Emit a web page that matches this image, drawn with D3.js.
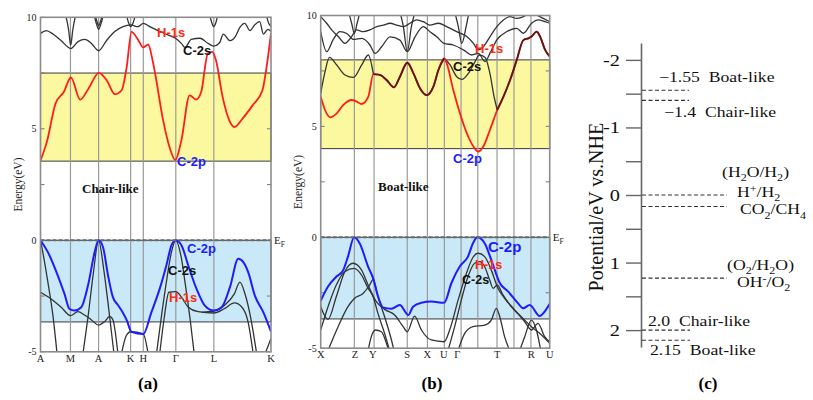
<!DOCTYPE html>
<html>
<head>
<meta charset="utf-8">
<script src="https://cdn.jsdelivr.net/npm/d3@7"></script>
<style>
  body { margin: 0; background: #fff; }
  svg { display: block; }
  text { font-family: "Liberation Serif", "Times New Roman", serif; white-space: pre; }
  .orb { font-family: "Liberation Sans", Arial, sans-serif; font-weight: bold; }
</style>
</head>
<body>
<svg id="fig" width="813" height="400"></svg>
<script>
// ---------- panel (a): chair-like ----------
const kLabelsA = ["A", "M", "A", "K", "H", "Γ", "L", "K"];
const kPosA = [0, 0.130, 0.252, 0.391, 0.446, 0.587, 0.752, 1];
const gapA = [3.55, 7.5];     // yellow: CBM .. top
const vbA = -3.66;            // blue box bottom (top = EF)

const redA = [[0,3.57],[.029,4.47],[.065,6.13],[.101,6.65],[.132,7.30],[.172,6.31],[.208,6.8],[.253,7.51],
  [.287,7.18],[.323,6.55],[.352,6.73],[.374,7.78],[.395,9.35],[.424,8.98],[.445,8.65],[.467,8.78],[.489,7.93],
  [.532,5.38],[.560,4.17],[.585,3.6],[.611,4.47],[.647,6.5],[.675,6.31],[.697,6.65],[.726,8.38],[.745,8.45],
  [.761,8.08],[.790,6.43],[.819,5.38],[.841,5.08],[.876,5.45],[.920,6.05],[.963,6.73],[.981,7.78],[1,9.28]];

const blueA = [[0,0],[.032,-.53],[.075,-1.58],[.104,-2.4],[.126,-3.08],[.148,-3.15],[.177,-3.0],[.206,-2.03],
  [.235,-.53],[.252,0],[.271,-.3],[.293,-1.58],[.314,-2.55],[.336,-2.9],[.355,-3.2],[.375,-3.6],[.394,-4.1],
  [.446,-4.2],[.481,-3.23],[.517,-2.18],[.546,-1.13],[.568,-.23],[.587,0],[.612,-.23],[.641,-1.13],[.677,-2.18],
  [.713,-2.93],[.752,-3.15],[.786,-3.0],[.822,-2.1],[.858,-.83],[.88,-.98],[.901,-1.43],[.930,-2.48],
  [.967,-3.23],[1,-4.1]];

const lowBlackA = [
  [[0,0],[.01,-.53],[.032,-1.88],[.054,-3.38],[.072,-5.1]],
  [[0,-2.33],[.046,-2.63],[.09,-3.0],[.13,-3.38],[.162,-3.2],[.191,-3.35],[.22,-3.56],[.252,-3.8],[.278,-3.65],
    [.3,-3.41],[.314,-3.56],[.336,-5.1]],
  [[.184,-5.1],[.206,-3.45],[.228,-1.58],[.252,0],[.274,-1.28],[.296,-3.08],[.319,-5.1]],
  [[.351,-5.1],[.372,-4.28],[.391,-4.1],[.446,-4.2],[.467,-5.1]],
  [[.503,-5.1],[.525,-3.38],[.546,-1.88],[.568,-.53],[.587,0],[.609,-.68],[.629,-2.03],[.649,-3.53],[.667,-5.1]],
  [[.517,-5.1],[.536,-3.53],[.557,-2.33],[.587,-2.3],[.612,-2.55],[.641,-3.0],[.684,-3.2],[.752,-3.26],
    [.8,-3.05],[.841,-2.81],[.874,-3.0],[.901,-3.68],[.923,-5.1]],
  [[.699,-3.23],[.752,-3.17],[.8,-2.9],[.841,-2.4],[.865,-1.88],[.887,-2.4],[.913,-3.53],[.938,-5.1]],
  [[.974,-5.1],[1,-4.4]]
];

const highBlackA = [
  [[0,9.28],[.025,9.4],[.054,9.25],[.09,8.95],[.131,8.6],[.163,8.91],[.192,9.01],[.221,8.83],[.252,8.5],
    [.286,8.95],[.322,9.36],[.358,9.58],[.391,9.66],[.423,9.58],[.446,9.73],[.474,9.58],[.51,9.4],[.553,9.21],
    [.586,9.06],[.611,8.83],[.627,8.65],[.654,9.01],[.692,9.06],[.727,8.83],[.751,8.71],[.777,8.86],[.793,9.25],
    [.822,8.95],[.845,9.13],[.865,9.55],[.886,9.73],[.909,9.4],[.929,9.66],[.951,9.81],[.967,9.25],[.987,9.46],[1,9.36]],
  [[.105,10.3],[.122,9.43],[.131,8.75],[.14,9.43],[.157,10.3]],
  [[.228,10.3],[.244,9.66],[.252,9.46],[.261,9.66],[.277,10.3]],
  [[.232,10.3],[.245,9.81],[.252,9.62],[.26,9.81],[.273,10.3]],
  [[.368,10.3],[.383,9.73],[.391,9.58],[.401,9.73],[.416,10.3]],
  [[.73,10.3],[.744,9.73],[.751,9.58],[.76,9.73],[.773,10.3]],
  [[.975,10.3],[.99,9.73],[1,9.58]]
];

// ---------- panel (b): boat-like ----------
const kLabelsB = ["X", "Z", "Y", "S", "X", "U", "Γ", "T", "R", "U"];
const kLabelPosB = [0, .15, .228, .378, .466, .538, .597, .771, .92, 1];
const kLinesB = [.147, .233, .378, .466, .54, .613, .686, .77, .844, .918];
const gapB = [4.0, 8.0];
const vbB = -3.68;

const redB = [[0,6.34],[.019,5.74],[.041,5.41],[.07,5.59],[.099,5.97],[.135,6.19],[.157,6.12],[.179,6.01],
  [.208,6.34],[.23,7.36],[.259,7.32],[.288,7.09],[.32,6.76],[.346,7.24],[.378,7.87],[.405,7.39],[.434,6.71],
  [.463,6.41],[.492,6.79],[.514,7.54],[.539,8.07],[.55,7.85],[.579,6.64],[.608,5.59],[.638,4.69],[.667,4.09],
  [.688,3.86],[.71,4.09],[.739,4.84],[.771,5.74],[.798,6.34],[.827,7.09],[.856,7.99],[.885,8.89],[.907,8.97],
  [.921,9.05],[.943,9.27],[.958,9.05],[.98,8.45],[1,8.15]];
const darkRangesB = [[.23, .539], [.771, 1]];   // red & C-2s overlap

const blueB = [[0,-2.86],[.032,-2.22],[.068,-1.78],[.097,-1.51],[.119,-.87],[.146,0],[.17,-.27],[.207,-1.32],
  [.229,-1.85],[.251,-2.68],[.272,-3.16],[.309,-3.22],[.345,-3.05],[.383,-3.5],[.403,-3.13],[.44,-2.95],
  [.483,-2.9],[.539,-2.95],[.571,-2.06],[.607,-1.32],[.643,-.87],[.665,-.27],[.684,0],[.716,-.27],[.745,-1.02],
  [.782,-2.06],[.818,-2.44],[.862,-2.98],[.884,-3.2],[.913,-3.05],[.956,-3.55],[.978,-3.35],[1,-3.0]];

const lowBlackB = [
  [[0,-3.13],[.032,-3.7],[.068,-2.68],[.105,-1.55],[.141,-1.17],[.178,-1.47],[.207,-2.15],[.243,-2.9],
    [.279,-3.25],[.323,-3.5],[.36,-4.03],[.378,-4.26],[.41,-3.55],[.44,-4.18],[.483,-4.63],[.539,-4.71],
    [.563,-4.18],[.6,-2.83],[.636,-1.63],[.665,-.9],[.687,-.72],[.716,-.87],[.745,-1.48],[.774,-2.3],
    [.803,-2.75],[.847,-3.28],[.891,-3.81],[.92,-4.18],[.949,-3.88],[.978,-4.48],[1,-4.71]],
  [[0,-4.18],[.032,-3.13],[.068,-2.15],[.105,-1.55],[.146,-1.4],[.178,-1.7],[.207,-2.3],[.229,-2.68],
    [.25,-3.43],[.279,-4.33],[.301,-5.1]],
  [[.032,-5.1],[.076,-4.03],[.119,-3.13],[.148,-2.75],[.185,-2.53],[.214,-2.15],[.229,-1.9],[.25,-2.68],
    [.279,-3.58],[.309,-4.63],[.32,-5.1]],
  [[.207,-5.1],[.221,-4.48],[.239,-4.18],[.265,-4.26],[.287,-4.78],[.297,-5.1]],
  [[.556,-5.1],[.585,-4.03],[.614,-2.83],[.643,-1.78],[.672,-1.17],[.694,-1.1],[.716,-1.33],[.738,-1.93],
    [.753,-2.3],[.771,-2.15],[.796,-2.6],[.833,-3.13],[.876,-3.58],[.92,-4.03],[.956,-4.33],[1,-4.78]],
  [[.6,-5.1],[.629,-4.33],[.665,-4.03],[.716,-3.96],[.745,-3.73],[.767,-3.2],[.782,-3.58],[.803,-4.48],[.825,-5.1]],
  [[.869,-5.1],[.891,-4.48],[.92,-3.73],[.942,-4.18],[.961,-5.1]]
];

const highBlackB = [
  [[0,6.49],[.019,7.47],[.038,8.11],[.07,7.77],[.106,7.32],[.143,7.21],[.179,7.77],[.208,8.22],[.23,7.36]],
  [[.539,8.07],[.565,7.77],[.594,7.24],[.616,7.12],[.645,7.39],[.674,7.92],[.693,8.22],[.718,8.11],[.739,7.39],
    [.757,6.34],[.771,5.74]],
  [[0,9.27],[.026,8.37],[.055,8.92],[.084,9.27],[.114,9.19],[.143,8.92],[.179,8.97],[.215,8.67],[.237,8.29],
    [.266,8.59],[.303,9.04],[.346,8.89],[.378,8.37],[.412,9.04],[.448,9.5],[.477,9.27],[.507,9.04],[.539,8.74],
    [.579,8.67],[.623,8.45],[.659,8.22],[.688,8.29],[.718,7.92],[.739,8.29],[.769,8.9],[.812,9.27],[.856,9.42],
    [.885,9.2],[.921,9.65],[.951,9.8],[.98,9.72],[1,9.65]],
  [[0,9.95],[.026,9.65],[.048,9.35],[.077,9.05],[.106,8.75],[.135,9.05],[.157,9.35],[.186,9.27],[.215,9.35],
    [.245,9.5],[.274,9.57],[.303,9.65],[.332,9.57],[.361,9.5],[.39,9.65],[.419,9.8],[.448,9.72],[.477,9.57],
    [.514,9.65],[.55,9.5],[.594,9.27],[.638,9.05],[.667,8.74],[.688,8.45],[.71,8.59],[.739,9.04],[.769,9.5],
    [.798,9.8],[.827,9.95],[.856,9.87],[.885,9.95],[.914,10.1],[.943,10.02],[.972,9.87],[1,9.72]],
  [[.116,10.4],[.135,9.65],[.147,9.2],[.159,9.65],[.178,10.4]],
  [[.339,10.4],[.361,9.5],[.378,8.37],[.396,9.5],[.419,10.4]],
  [[.579,10.4],[.601,9.5],[.616,8.74],[.635,9.5],[.652,10.4]]
];

// ---------- panel (c): band edges vs NHE ----------
const potTicks = [-2, -1.5, -1, -0.5, 0, 0.5, 1, 1.5, 2];
const cbEdges = [-1.55, -1.4];
const cbNames = ["\u22121.55  Boat-like", "\u22121.4  Chair-like"];
const vbEdges = [2.0, 2.15];
const vbNames = ["2.0  Chair-like", "2.15  Boat-like"];
const redoxLevels = [0, 0.17, 1.23];

const svg = d3.select("#fig");
const defs = svg.append("defs");

// text with _x subscripts and ^x superscripts
function rich(t, str, size) {
  let off = 0;
  str.match(/[_^].|[^_^]+/g).forEach(p => {
    let target = 0, txt = p, fs = size;
    if (p[0] === "_") { target = size * 0.28; txt = p[1]; fs = size * 0.68; }
    else if (p[0] === "^") { target = -size * 0.36; txt = p[1]; fs = size * 0.68; }
    t.append("tspan").attr("dy", target - off).attr("font-size", fs).text(txt);
    off = target;
  });
  return t;
}

function bandPanel(p) {
  const x = d3.scaleLinear().domain([0, 1]).range([p.left, p.right]);
  const y = d3.scaleLinear().domain([-5, 10]).range([p.bottom, p.top]);
  const g = svg.append("g");
  defs.append("clipPath").attr("id", "clip-" + p.id)
    .append("rect").attr("x", p.left).attr("y", p.top)
    .attr("width", p.right - p.left).attr("height", p.bottom - p.top);

  g.append("rect")
    .attr("x", x(0)).attr("width", x(1) - x(0))
    .attr("y", y(p.gap[1])).attr("height", y(p.gap[0]) - y(p.gap[1]))
    .attr("fill", "#fbf8a0").attr("stroke", "#4a4a4a").attr("stroke-width", 1.1);
  g.append("rect")
    .attr("x", x(0)).attr("width", x(1) - x(0))
    .attr("y", y(0)).attr("height", y(p.vb) - y(0))
    .attr("fill", "#c9e8f8").attr("stroke", "#4a4a4a").attr("stroke-width", 1.1);

  g.selectAll(".kl").data(p.kLines).join("line")
    .attr("x1", d => x(d)).attr("x2", d => x(d))
    .attr("y1", p.top).attr("y2", p.bottom)
    .attr("stroke", "#9a9a9a").attr("stroke-width", 1.2);

  const eTicks = d3.range(-5, 10.01, 2.5);
  [[0, 4], [1, -4]].forEach(([k, dx]) => {
    g.selectAll(null).data(eTicks).join("line")
      .attr("x1", x(k)).attr("x2", x(k) + dx)
      .attr("y1", d => y(d)).attr("y2", d => y(d))
      .attr("stroke", "#777").attr("stroke-width", 1);
  });

  const ln = d3.line().x(d => x(d[0])).y(d => y(d[1])).curve(d3.curveMonotoneX);
  const c = g.append("g").attr("clip-path", `url(#clip-${p.id})`);
  c.selectAll(".bk").data(p.black).join("path")
    .attr("d", ln).attr("fill", "none").attr("stroke", "#333").attr("stroke-width", 1.3);
  c.append("path").datum(p.red).attr("d", ln)
    .attr("fill", "none").attr("stroke", "#ff1c1c").attr("stroke-width", 1.8);
  c.selectAll(".dk").data(p.dark.map(r => p.red.filter(d => d[0] >= r[0] - 1e-9 && d[0] <= r[1] + 1e-9)))
    .join("path").attr("d", ln)
    .attr("fill", "none").attr("stroke", "#5a1818").attr("stroke-width", 1.8);
  c.append("path").datum(p.blue).attr("d", ln)
    .attr("fill", "none").attr("stroke", "#1c1cff").attr("stroke-width", 2);

  g.append("line")
    .attr("x1", x(0)).attr("x2", x(1)).attr("y1", y(0)).attr("y2", y(0))
    .attr("stroke", "#6a6a6a").attr("stroke-width", 2).attr("stroke-dasharray", "4,2");

  g.append("rect")
    .attr("x", x(0)).attr("y", p.top).attr("width", x(1) - x(0)).attr("height", p.bottom - p.top)
    .attr("fill", "none").attr("stroke", "#8c8c8c").attr("stroke-width", 1.6);

  g.selectAll(".el").data([10, 5, 0, -5]).join("text")
    .attr("x", x(0) - 4).attr("y", d => y(d) + 3.5)
    .attr("text-anchor", "end").attr("font-size", 10).attr("fill", "#222")
    .text(d => d);

  g.selectAll(".klab").data(p.kLabels).join("text")
    .attr("x", (d, i) => x(p.kLabelPos[i])).attr("y", p.bottom + 10)
    .attr("text-anchor", "middle").attr("font-size", 10.5).attr("fill", "#222")
    .text(d => d);

  rich(g.append("text").attr("x", x(1) + 3).attr("y", y(0) + 4)
    .attr("font-size", 11).attr("fill", "#222"), "E_F", 11);

  g.append("text")
    .attr("transform", `translate(${p.left - 19},${(y(10) + y(-5)) / 2}) rotate(-90)`)
    .attr("text-anchor", "middle").attr("font-size", 11.5).attr("fill", "#222")
    .text("Energy(eV)");

  g.append("text").attr("x", p.nameX).attr("y", y(2.1))
    .attr("font-size", 13).attr("font-weight", "bold").attr("fill", "#111")
    .text(p.name);

  g.selectAll(".orb").data(p.orb).join("text").attr("class", "orb")
    .attr("x", d => d[1]).attr("y", d => d[2])
    .attr("font-size", d => d[4] || 13).attr("fill", d => d[3])
    .text(d => d[0]);

  svg.append("text").attr("x", p.tagX).attr("y", 389)
    .attr("text-anchor", "middle").attr("font-size", 17).attr("font-weight", "bold")
    .text(p.tag);
}

bandPanel({
  id: "a", left: 40.5, right: 271, top: 17.3, bottom: 351.8,
  kLines: kPosA.slice(1, -1), kLabels: kLabelsA, kLabelPos: kPosA,
  gap: gapA, vb: vbA, red: redA, blue: blueA, dark: [],
  black: lowBlackA.concat(highBlackA),
  name: "Chair-like", nameX: 82, tag: "(a)", tagX: 148,
  orb: [["H-1s", 157, 37, "#ff2a10"], ["C-2s", 183, 55, "#111"], ["C-2p", 177, 166, "#1c1cff"],
        ["C-2p", 187, 253, "#1c1cff"], ["C-2s", 168, 275, "#111"], ["H-1s", 169, 302, "#ff2a10"]]
});

bandPanel({
  id: "b", left: 320.7, right: 549.7, top: 15.5, bottom: 348.2,
  kLines: kLinesB, kLabels: kLabelsB, kLabelPos: kLabelPosB,
  gap: gapB, vb: vbB, red: redB, blue: blueB, dark: darkRangesB,
  black: lowBlackB.concat(highBlackB),
  name: "Boat-like", nameX: 378, tag: "(b)", tagX: 432,
  orb: [["H-1s", 475, 53, "#ff2a10"], ["C-2s", 453, 71, "#111"], ["C-2p", 453, 163, "#1c1cff"],
        ["C-2p", 488, 252, "#1c1cff", 15], ["H-1s", 475, 269, "#ff2a10", 12.5], ["C-2s", 462, 283.5, "#111", 12.5]]
});

// ---------- panel (c) ----------
const axisX = 641;
const yP = d3.scaleLinear().domain([-2.25, 2.25]).range([43, 347]);
const cg = svg.append("g");
const ax = cg.append("g").attr("transform", `translate(${axisX},0)`)
  .call(d3.axisLeft(yP).tickValues(potTicks).tickSize(15).tickSizeOuter(0).tickPadding(2.5)
    .tickFormat(d => Number.isInteger(d) ? String(d) : ""));
ax.select(".domain").attr("stroke", "#666").attr("stroke-width", 1.6);
ax.selectAll(".tick line").attr("stroke", "#666").attr("stroke-width", 1.4);
ax.selectAll(".tick text").attr("font-family", "'Liberation Serif', serif")
  .attr("font-size", 17).attr("fill", "#111").attr("transform", "scale(1.2,1)");

cg.append("text")
  .attr("transform", `translate(603,${yP(0.18)}) rotate(-90)`)
  .attr("text-anchor", "middle").attr("font-size", 20).attr("fill", "#111")
  .text("Potential/eV vs.NHE");

function level(v, x2) {
  cg.append("line").attr("x1", axisX + 1).attr("x2", x2).attr("y1", yP(v)).attr("y2", yP(v))
    .attr("stroke", "#333").attr("stroke-width", 1.1).attr("stroke-dasharray", "4,2.5");
}
cbEdges.forEach(v => level(v, 689));
vbEdges.forEach(v => level(v, 690));
redoxLevels.forEach(v => level(v, 727));

function note(str, x, yy) {
  rich(cg.append("text").attr("transform", `translate(${x},${yy}) scale(1.22,1)`)
    .attr("font-size", 14.5).attr("fill", "#111"), str, 14.5);
}
note(cbNames[0], 659, yP(cbEdges[0]) - 8);
note(cbNames[1], 664, yP(cbEdges[1]) + 17);
note(vbNames[0], 648, yP(vbEdges[0]) - 4);
note(vbNames[1], 650, yP(vbEdges[1]) + 15);
note("(H_2O/H_2)", 722, yP(redoxLevels[0]) - 18);
note("H^+/H_2", 737, yP(redoxLevels[0]) + 2);
note("CO_2/CH_4", 740, yP(redoxLevels[1]) + 8);
note("(O_2/H_2O)", 727, yP(redoxLevels[2]) - 8);
note("OH^-/O_2", 737, yP(redoxLevels[2]) + 9);

svg.append("text").attr("x", 708).attr("y", 389)
  .attr("text-anchor", "middle").attr("font-size", 17).attr("font-weight", "bold")
  .text("(c)");
</script>
</body>
</html>
